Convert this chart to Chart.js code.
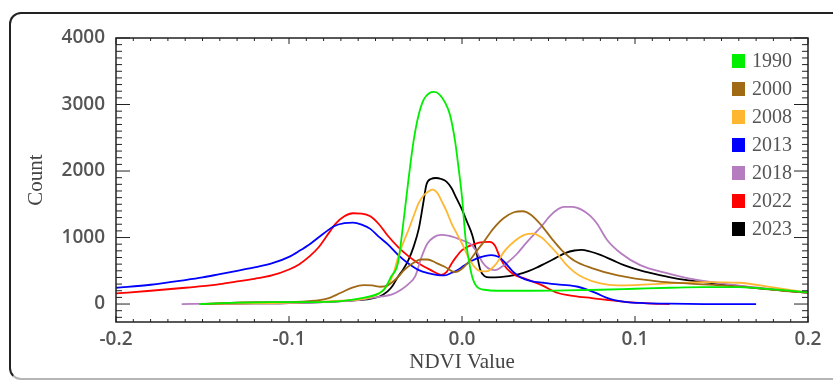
<!DOCTYPE html>
<html>
<head>
<meta charset="utf-8">
<script src="https://cdn.jsdelivr.net/npm/chart.js@4/dist/chart.umd.min.js"></script>
<style>
  html, body { margin: 0; padding: 0; background: #fff; }
  #wrap { position: relative; width: 833px; height: 383px; overflow: hidden; }
  #frame {
    position: absolute; left: 9px; top: 12px; width: 840px; height: 364px;
    border: 2px solid #222; border-bottom-color: #b5b5b5; border-radius: 12px;
  }
  #chart { position: absolute; left: 0; top: 0; }
</style>
</head>
<body>
<div id="wrap">
  <div id="frame"></div>
  <canvas id="chart" width="833" height="383"></canvas>
</div>
<script>
// NDVI histogram curves
const years = ['1990', '2000', '2008', '2013', '2018', '2022', '2023'];
const colors = ['#00ee00', '#a06a14', '#ffb732', '#0000ff', '#b57cc0', '#ff0000', '#000000'];

const ndvi1990 = [-0.152, -0.13, -0.11, -0.09, -0.07, -0.058, -0.048, -0.045, -0.041, -0.037, -0.034, -0.031, -0.028, -0.025, -0.022, -0.019, -0.016, -0.013, -0.010, -0.007, -0.004, -0.002, 0.0, 0.002, 0.004, 0.006, 0.009, 0.013, 0.02, 0.04, 0.06, 0.08, 0.10, 0.12, 0.14, 0.16, 0.18, 0.2];
const count1990 = [0, 20, 30, 30, 45, 90, 160, 220, 410, 620, 1200, 1860, 2450, 2850, 3080, 3170, 3190, 3150, 3040, 2850, 2450, 2050, 1610, 1000, 650, 400, 250, 215, 200, 200, 205, 215, 230, 245, 255, 255, 220, 175];

const ndvi2000 = [-0.15, -0.12, -0.1, -0.085, -0.078, -0.07, -0.063, -0.057, -0.052, -0.047, -0.043, -0.038, -0.033, -0.028, -0.024, -0.02, -0.015, -0.01, -0.004, 0.0, 0.004, 0.008, 0.013, 0.018, 0.024, 0.03, 0.035, 0.04, 0.046, 0.052, 0.058, 0.065, 0.075, 0.09, 0.113, 0.13, 0.15, 0.17, 0.185, 0.2];
const count2000 = [0, 30, 30, 50, 80, 170, 250, 285, 280, 260, 280, 380, 520, 620, 670, 670, 620, 560, 480, 530, 640, 780, 950, 1130, 1290, 1380, 1395, 1340, 1180, 980, 800, 650, 540, 430, 340, 310, 280, 240, 200, 170];

const ndvi2008 = [-0.15, -0.1, -0.07, -0.055, -0.048, -0.043, -0.04, -0.037, -0.034, -0.031, -0.028, -0.025, -0.022, -0.019, -0.017, -0.014, -0.012, -0.009, -0.006, -0.003, 0.0, 0.005, 0.01, 0.014, 0.019, 0.025, 0.031, 0.036, 0.041, 0.046, 0.05, 0.055, 0.06, 0.065, 0.07, 0.08, 0.09, 0.1, 0.12, 0.14, 0.16, 0.18, 0.2];
const count2008 = [0, 20, 50, 90, 160, 280, 430, 700, 920, 1110, 1320, 1520, 1640, 1700, 1720, 1660, 1560, 1400, 1210, 1060, 910, 640, 500, 490, 580, 810, 960, 1040, 1060, 1000, 900, 760, 600, 480, 400, 310, 280, 285, 310, 330, 320, 250, 170];

const ndvi2013 = [-0.2, -0.18, -0.16, -0.15, -0.14, -0.13, -0.12, -0.11, -0.1, -0.094, -0.088, -0.08, -0.074, -0.068, -0.063, -0.058, -0.053, -0.048, -0.043, -0.037, -0.031, -0.025, -0.019, -0.014, -0.01, -0.006, -0.002, 0.003, 0.008, 0.013, 0.017, 0.021, 0.025, 0.029, 0.034, 0.04, 0.047, 0.055, 0.062, 0.067, 0.072, 0.078, 0.083, 0.088, 0.095, 0.105, 0.12, 0.14, 0.17];
const count2013 = [245, 290, 360, 400, 450, 500, 550, 610, 710, 800, 900, 1060, 1170, 1215, 1225, 1195, 1130, 1010, 900, 740, 610, 510, 460, 435, 430, 470, 520, 610, 680, 720, 735, 710, 620, 500, 400, 345, 320, 295, 280, 260, 220, 160, 100, 60, 30, 15, 5, 0, 0];

const ndvi2018 = [-0.162, -0.14, -0.12, -0.1, -0.08, -0.06, -0.05, -0.04, -0.035, -0.031, -0.027, -0.0235, -0.02, -0.016, -0.012, -0.008, -0.003, 0.002, 0.006, 0.009, 0.012, 0.015, 0.019, 0.023, 0.027, 0.032, 0.036, 0.041, 0.046, 0.05, 0.054, 0.059, 0.064, 0.069, 0.074, 0.078, 0.084, 0.092, 0.103, 0.119, 0.13, 0.15, 0.17, 0.185, 0.2];
const count2018 = [0, 5, 10, 15, 30, 60, 100, 150, 220, 300, 420, 700, 910, 1010, 1040, 1030, 990, 940, 880, 760, 620, 540, 510, 560, 640, 760, 885, 1030, 1170, 1300, 1400, 1460, 1460, 1420, 1330, 1210, 960, 760, 585, 460, 390, 310, 250, 210, 170];

const ndvi2022 = [-0.2, -0.18, -0.16, -0.15, -0.14, -0.13, -0.12, -0.11, -0.1, -0.094, -0.088, -0.083, -0.078, -0.073, -0.068, -0.063, -0.058, -0.053, -0.048, -0.043, -0.037, -0.031, -0.025, -0.018, -0.012, -0.009, -0.006, -0.003, 0.0, 0.004, 0.008, 0.012, 0.016, 0.019, 0.022, 0.026, 0.031, 0.036, 0.046, 0.055, 0.065, 0.075, 0.088, 0.1, 0.11, 0.12];
const count2022 = [160, 200, 245, 270, 300, 340, 380, 430, 520, 600, 720, 850, 1030, 1210, 1320, 1365, 1360, 1320, 1200, 1030, 860, 720, 610, 510, 440, 480, 610, 720, 810, 870, 910, 930, 935, 880, 700, 530, 430, 385, 285, 170, 120, 90, 50, 20, 5, 0];

const ndvi2023 = [-0.15, -0.12, -0.1, -0.08, -0.065, -0.055, -0.048, -0.043, -0.04, -0.037, -0.034, -0.031, -0.028, -0.025, -0.0225, -0.0205, -0.018, -0.015, -0.012, -0.009, -0.006, -0.003, 0.0, 0.003, 0.006, 0.0085, 0.0105, 0.013, 0.016, 0.022, 0.027, 0.033, 0.038, 0.043, 0.048, 0.054, 0.06, 0.065, 0.069, 0.074, 0.08, 0.087, 0.094, 0.105, 0.119, 0.13, 0.15, 0.17, 0.185, 0.2];
const count2023 = [0, 10, 15, 30, 50, 70, 110, 190, 280, 410, 520, 660, 860, 1130, 1500, 1800, 1880, 1895, 1880, 1840, 1740, 1580, 1420, 1230, 1030, 760, 520, 420, 400, 405, 420, 450, 490, 545, 610, 690, 770, 805, 815, 790, 740, 660, 580, 490, 410, 360, 300, 240, 205, 170];

const xTicks = [-0.2, -0.1, 0.0, 0.1, 0.2];
const yTicks = [0, 1000, 2000, 3000, 4000];

const seriesX = [ndvi1990, ndvi2000, ndvi2008, ndvi2013, ndvi2018, ndvi2022, ndvi2023];
const seriesY = [count1990, count2000, count2008, count2013, count2018, count2022, count2023];

const tickFont = { family: '"Open Sans", sans-serif', size: 19, weight: '600' };
const serifFont = { family: '"Liberation Serif", "Times New Roman", serif', size: 21 };

// frame, inward major/minor ticks and the legend box
const framePlugin = {
  id: 'idlFrame',
  afterDatasetsDraw(chart) {
    const {ctx, chartArea: a, scales} = chart;
    const xs = scales.x, ys = scales.y;
    ctx.save();
    ctx.strokeStyle = '#222';
    ctx.lineWidth = 1.5;
    ctx.strokeRect(a.left, a.top, a.right - a.left, a.bottom - a.top);
    ctx.lineWidth = 1;
    ctx.beginPath();
    for (let i = -20; i <= 20; i++) {
      const px = xs.getPixelForValue(i / 100);
      const len = i % 10 === 0 ? 6 : 3;
      ctx.moveTo(px, a.bottom); ctx.lineTo(px, a.bottom - len);
      ctx.moveTo(px, a.top); ctx.lineTo(px, a.top + len);
    }
    for (let v = -200; v <= 4000; v += 100) {
      const py = ys.getPixelForValue(v);
      const len = v % 1000 === 0 ? 14 : 6;
      ctx.moveTo(a.left, py); ctx.lineTo(a.left + len, py);
      ctx.moveTo(a.right, py); ctx.lineTo(a.right - len, py);
    }
    ctx.stroke();

    // legend
    ctx.font = '20px "Liberation Serif", serif';
    ctx.textBaseline = 'middle';
    ctx.textAlign = 'left';
    chart.data.datasets.forEach((ds, i) => {
      const cy = 61 + i * 28;
      ctx.fillStyle = ds.borderColor;
      ctx.fillRect(732, cy - 7, 13, 14);
      ctx.fillStyle = '#555';
      ctx.fillText(ds.label, 752, cy + 1);
    });
    ctx.restore();
  }
};

const datasets = years.map((yr, i) => ({
  label: yr,
  data: seriesX[i].map((x, j) => ({x: x, y: seriesY[i][j]})),
  borderColor: colors[i],
  borderWidth: 1.8,
  pointRadius: 0,
  fill: false,
  cubicInterpolationMode: 'monotone'
}));

new Chart(document.getElementById('chart'), {
  type: 'line',
  data: { datasets: datasets },
  options: {
    responsive: false,
    animation: false,
    layout: { padding: { left: 0, right: 25, top: 38, bottom: 0 } },
    plugins: { legend: { display: false }, tooltip: { enabled: false } },
    scales: {
      x: {
        type: 'linear', min: -0.2, max: 0.2,
        grid: { display: false, drawTicks: false },
        border: { display: false },
        afterBuildTicks: s => { s.ticks = xTicks.map(v => ({value: v})); },
        ticks: { font: tickFont, color: '#555', padding: 6, maxRotation: 0, callback: v => v.toFixed(1) },
        title: { display: true, text: 'NDVI Value', font: serifFont, color: '#444', padding: { top: 0, bottom: 8 } },
        afterFit: s => { s.height = 61; }
      },
      y: {
        type: 'linear', min: -270, max: 4000,
        grid: { display: false, drawTicks: false },
        border: { display: false },
        afterBuildTicks: s => { s.ticks = yTicks.map(v => ({value: v})); },
        ticks: { font: tickFont, color: '#555', padding: 11, callback: v => String(v) },
        title: { display: true, text: 'Count', font: serifFont, color: '#444', padding: { top: 24, bottom: 0 } },
        afterFit: s => { s.width = 116; }
      }
    }
  },
  plugins: [framePlugin]
});
</script>
</body>
</html>
